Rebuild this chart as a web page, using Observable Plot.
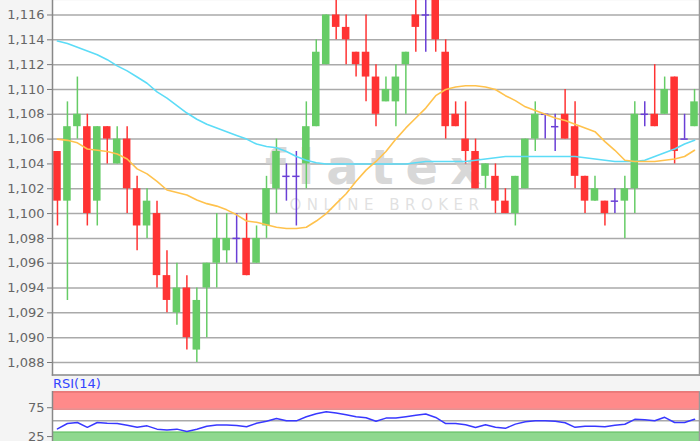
<!DOCTYPE html>
<html><head><meta charset="utf-8">
<script src="https://cdn.jsdelivr.net/npm/d3@7"></script>
<script src="https://cdn.jsdelivr.net/npm/@observablehq/plot@0.6"></script>
<style>
html,body{margin:0;padding:0;background:#f4f4f4;width:700px;height:441px;overflow:hidden;font-family:"DejaVu Sans",sans-serif;}
#main{position:absolute;left:0;top:0;}
#rsiLabel{position:absolute;left:53px;top:377px;font-size:13px;color:#3344ff;line-height:14px;}
#rsi{position:absolute;left:0;top:380px;}
</style></head><body>
<div id="main"></div><div id="rsiLabel">RSI(14)</div><div id="rsi"></div>
<script>
// OHLC per session
const open  = [1.105,1.101,1.107,1.107,1.101,1.107,1.104,1.106,1.102,1.099,1.100,1.095,1.092,1.094,1.089,1.094,1.096,1.097,1.098,1.098,1.096,1.099,1.102,1.103,1.103,1.104,1.107,1.112,1.116,1.115,1.113,1.113,1.111,1.109,1.109,1.112,1.116,1.116,1.1175,1.113,1.108,1.106,1.105,1.103,1.103,1.101,1.100,1.102,1.106,1.108,1.107,1.108,1.107,1.103,1.101,1.101,1.101,1.101,1.102,1.108,1.108,1.108,1.111,1.106,1.107];
const high  = [1.105,1.109,1.111,1.108,1.107,1.107,1.107,1.107,1.103,1.102,1.101,1.097,1.096,1.095,1.094,1.096,1.100,1.100,1.100,1.100,1.099,1.103,1.106,1.104,1.105,1.109,1.114,1.116,1.1175,1.116,1.113,1.116,1.112,1.111,1.112,1.113,1.1175,1.1175,1.1175,1.114,1.109,1.109,1.106,1.104,1.104,1.102,1.103,1.106,1.109,1.108,1.108,1.110,1.109,1.103,1.103,1.101,1.102,1.103,1.109,1.109,1.112,1.111,1.111,1.108,1.110];
const low   = [1.099,1.093,1.106,1.099,1.099,1.104,1.104,1.100,1.097,1.098,1.094,1.092,1.091,1.089,1.088,1.090,1.094,1.096,1.096,1.095,1.096,1.098,1.100,1.101,1.099,1.102,1.107,1.112,1.114,1.112,1.111,1.109,1.107,1.109,1.107,1.108,1.113,1.113,1.113,1.106,1.107,1.104,1.102,1.102,1.100,1.100,1.099,1.102,1.105,1.106,1.105,1.106,1.102,1.100,1.101,1.099,1.100,1.098,1.100,1.107,1.107,1.108,1.104,1.106,1.107];
const close = [1.101,1.107,1.108,1.100,1.107,1.106,1.106,1.102,1.099,1.101,1.095,1.093,1.094,1.090,1.093,1.096,1.098,1.098,1.098,1.095,1.098,1.102,1.105,1.103,1.103,1.107,1.113,1.116,1.115,1.114,1.112,1.111,1.108,1.110,1.111,1.113,1.115,1.116,1.114,1.107,1.107,1.105,1.102,1.104,1.101,1.100,1.103,1.106,1.108,1.108,1.107,1.106,1.103,1.101,1.102,1.100,1.101,1.102,1.108,1.108,1.107,1.110,1.105,1.106,1.109];
// moving averages
const maLong  = [1.1139,1.1137,1.1134,1.1131,1.1128,1.1124,1.1119,1.1115,1.1110,1.1105,1.1098,1.1093,1.1087,1.1081,1.1076,1.1072,1.1069,1.1066,1.1063,1.1060,1.1056,1.1054,1.1053,1.1050,1.1046,1.1043,1.1041,1.1040,1.1040,1.1040,1.1040,1.1040,1.1040,1.1040,1.1040,1.1040,1.1041,1.1042,1.1042,1.1042,1.1042,1.1042,1.1043,1.1044,1.1045,1.1046,1.1046,1.1046,1.1046,1.1046,1.1046,1.1046,1.1046,1.1045,1.1044,1.1043,1.1042,1.1042,1.1042,1.1043,1.1046,1.1049,1.1052,1.1056,1.1059];
const maShort = [1.1060,1.1059,1.1057,1.1052,1.1051,1.1050,1.1048,1.1044,1.1036,1.1032,1.1026,1.1019,1.1017,1.1015,1.1011,1.1008,1.1006,1.1003,1.0999,1.0994,1.0993,1.0991,1.0989,1.0988,1.0988,1.0989,1.0994,1.1000,1.1008,1.1016,1.1026,1.1035,1.1042,1.1050,1.1060,1.1069,1.1077,1.1085,1.1095,1.1100,1.1102,1.1103,1.1103,1.1102,1.1100,1.1095,1.1091,1.1086,1.1083,1.1080,1.1077,1.1075,1.1072,1.1069,1.1066,1.1058,1.1051,1.1043,1.1042,1.1042,1.1042,1.1043,1.1044,1.1046,1.1051];
// RSI(14)
const rsi = [35.8,45.0,46.8,38.4,46.8,45.4,45.0,41.9,38.4,41.0,35.3,33.6,35.3,31.1,35.0,40.2,42.3,42.3,41.4,39.3,45.4,48.9,53.7,49.7,49.7,56.7,61.9,65.4,63.1,60.2,56.7,55.0,48.9,54.4,54.4,56.7,59.3,61.4,55.5,45.0,45.0,42.8,38.1,42.8,38.4,36.7,44.0,48.0,49.7,49.7,48.9,46.3,38.4,40.2,40.2,39.3,41.9,43.7,52.3,51.5,49.7,55.8,46.8,46.8,52.3];

const yTicks = [1.088,1.090,1.092,1.094,1.096,1.098,1.100,1.102,1.104,1.106,1.108,1.110,1.112,1.114,1.116];
const yTickLabels = ["1,088","1,090","1,092","1,094","1,096","1,098","1,100","1,102","1,104","1,106","1,108","1,110","1,112","1,114","1,116"];
const rsiTicks = [25, 75];
const rsiUpper = 70, rsiLower = 30, rsiMid = 50;

const GREEN = "#66cc66", RED = "#ff3333", BLUE = "#6a3fd6";
const idx = open.map((_, i) => i);
const candles = idx.map(i => ({i, o: open[i], h: high[i], l: low[i], c: close[i], dir: Math.sign(Math.round((close[i] - open[i]) * 1e6))}));
const colorOf = d => d.dir > 0 ? GREEN : d.dir < 0 ? RED : BLUE;

const xOpts = {type: "band", domain: idx, padding: 0, axis: null};
const baseStyle = {background: "transparent", fontFamily: "DejaVu Sans", fontSize: "13px", color: "#666", overflow: "visible"};

const main = Plot.plot({
  width: 700, height: 377, marginLeft: 52, marginRight: 1, marginTop: 0, marginBottom: 2.5,
  style: baseStyle,
  x: xOpts,
  y: {domain: [1.086993, 1.117168], label: null, axis: null},
  marks: [
    Plot.frame({fill: "white"}),
    Plot.gridY(yTicks, {stroke: "#aaaaaa", strokeOpacity: 1, strokeWidth: 1.5}),
    Plot.axisY(yTicks, {tickFormat: d => yTickLabels[yTicks.indexOf(d)], tickSize: 5, tickPadding: 3, label: null, stroke: "#777", fill: "#666"}),
    Plot.text(["flatex"], {frameAnchor: "middle", dx: 3, dy: -19, fontSize: 48, fontWeight: "bold", fill: "#cccccc", fillOpacity: 0.75}),
    Plot.text(["ONLINE BROKER"], {frameAnchor: "middle", dx: 11, dy: 17, fontSize: 15, fill: "#d4d4d4", fillOpacity: 0.7}),
    Plot.ruleX(candles, {x: "i", y1: "l", y2: "h", stroke: colorOf, strokeWidth: 1.5, clip: true}),
    Plot.barY(candles.filter(d => d.dir !== 0), {x: "i", y1: "o", y2: "c", fill: colorOf, insetLeft: 1.2, insetRight: 1.2, clip: true}),
    Plot.tickY(candles.filter(d => d.dir === 0), {x: "i", y: "o", stroke: BLUE, strokeWidth: 1.5, insetLeft: 1.3, insetRight: 1.3, clip: true}),
    Plot.line(idx, {x: i => i, y: i => maLong[i], stroke: "#5cdcf7", strokeWidth: 1.6, clip: true}),
    Plot.line(idx, {x: i => i, y: i => maShort[i], stroke: "#ffc24d", strokeWidth: 1.6, clip: true}),
    Plot.frame({anchor: "left", stroke: "#888", strokeWidth: 1.5}),
    Plot.frame({anchor: "bottom", stroke: "#888", strokeWidth: 1.5}),
    Plot.frame({anchor: "right", stroke: "#999", strokeWidth: 1.5})
  ]
});
main.querySelectorAll("text").forEach(t => {
  if (t.textContent === "flatex") t.style.letterSpacing = "12px";
  if (t.textContent === "ONLINE BROKER") t.style.letterSpacing = "5.5px";
});
document.getElementById("main").append(main);

const bands = [
  {lo: rsiUpper, hi: 100, fill: "#ff8a8a"},
  {lo: 0, hi: rsiLower, fill: "#8fd88f"}
];
const edges = [
  {v: rsiUpper, c: "#e06a6a"}, {v: 100, c: "#e06a6a"}, {v: rsiLower, c: "#6cc46c"}
];

const rsiChart = Plot.plot({
  width: 700, height: 69, marginLeft: 52, marginRight: 1, marginTop: 11.3, marginBottom: 0,
  style: baseStyle,
  x: xOpts,
  y: {domain: [0, 100], label: null, axis: null},
  marks: [
    Plot.frame({fill: "white"}),
    Plot.rectY(bands, {y1: "lo", y2: "hi", fill: "fill"}),
    Plot.ruleY(edges, {y: "v", stroke: "c", strokeWidth: 1.2}),
    Plot.ruleY([rsiMid], {stroke: "#aaaaaa", strokeWidth: 1.5}),
    Plot.axisY(rsiTicks, {tickSize: 5, tickPadding: 3, dy: 1.5, label: null, stroke: "#777", fill: "#666"}),
    Plot.line(idx, {x: i => i, y: i => rsi[i], stroke: "#3838ff", strokeWidth: 1.5}),
    Plot.frame({anchor: "left", stroke: "#888", strokeWidth: 1.5}),
    Plot.frame({anchor: "right", stroke: "#999", strokeWidth: 1.5})
  ]
});
document.getElementById("rsi").append(rsiChart);
</script>
</body></html>
